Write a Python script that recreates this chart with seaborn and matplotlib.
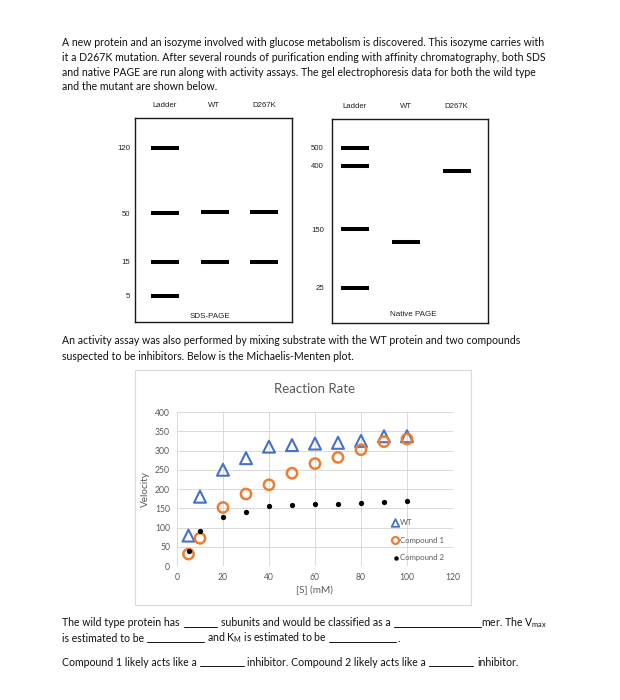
import numpy as np
import pandas as pd
import matplotlib
matplotlib.use("Agg")
import matplotlib.pyplot as plt
from matplotlib.patches import Rectangle
from matplotlib.lines import Line2D
import seaborn as sns

# ---------------- data ----------------
lanes = ["Ladder", "WT", "D267K"]

sds_ladder_labels = ["120", "50", "15", "5"]
sds_ladder_pos = [30, 95, 144, 178]      # migration distance from top of gel (px)
sds_wt_pos = [94, 144]
sds_mut_pos = [94, 144]

native_ladder_labels = ["500", "400", "150", "25"]
native_ladder_pos = [29, 47, 110, 169]
native_wt_pos = [123]
native_mut_pos = [52]

substrate_mM = [5, 10, 20, 30, 40, 50, 60, 70, 80, 90, 100]
v_wt = [79, 180, 250, 280, 310, 314, 318, 320, 325, 337, 337]
v_c1 = [31, 72, 152, 187, 211, 241, 266, 282, 302, 323, 330]
v_c2 = [39, 90, 126, 141, 156, 158, 160, 161, 163, 167, 168]

x_ticks = [0, 20, 40, 60, 80, 100, 120]
y_ticks = [0, 50, 100, 150, 200, 250, 300, 350, 400]

# ---------------- figure ----------------
sns.set_theme(style="white")
plt.rcParams["font.family"] = ["Lato", "DejaVu Sans"]
plt.rcParams["mathtext.fontset"] = "custom"
plt.rcParams["mathtext.rm"] = "Lato"

W, H = 620, 700
fig = plt.figure(figsize=(6.2, 7.0), dpi=100)
fig.patch.set_facecolor("white")


def ax_px(x0, y0, x1, y1):
    return fig.add_axes([x0 / W, 1 - y1 / H, (x1 - x0) / W, (y1 - y0) / H])


def ftext(x, y, s, **kw):
    kw.setdefault("fontsize", 7.6)
    kw.setdefault("va", "center")
    kw.setdefault("color", "#111111")
    return fig.text(x / W, 1 - y / H, s, **kw)


def blank(x0, x1, y):
    fig.add_artist(Line2D([x0 / W, x1 / W], [1 - y / H, 1 - y / H],
                          color="#111111", lw=0.7))


# ---------------- paragraph text ----------------
para1 = [
    "A new protein and an isozyme involved with glucose metabolism is discovered. This isozyme carries with",
    "it a D267K mutation. After several rounds of purification ending with affinity chromatography, both SDS",
    "and native PAGE are run along with activity assays. The gel electrophoresis data for both the wild type",
    "and the mutant are shown below.",
]
for i, line in enumerate(para1):
    ftext(62, 43 + i * 14.6, line)

para2 = [
    "An activity assay was also performed by mixing substrate with the WT protein and two compounds",
    "suspected to be inhibitors. Below is the Michaelis-Menten plot.",
]
for i, line in enumerate(para2):
    ftext(62, 341 + i * 16, line)


# ---------------- gels ----------------
GEL_FONT = ["Liberation Sans"]


def draw_gel(box, lane0, spacing, ladder_labels, ladder_pos, wt_pos, mut_pos,
             title, title_x, title_y, label_pad):
    x0, y0, x1, y1 = box
    ax = ax_px(x0, y0, x1, y1)
    rows = ([(0, p) for p in ladder_pos] + [(1, p) for p in wt_pos]
            + [(2, p) for p in mut_pos])
    df = pd.DataFrame(rows, columns=["lane", "pos"])
    sns.scatterplot(data=df, x="lane", y="pos", marker="_", s=20.5 ** 2,
                    linewidth=2.9, color="black", ax=ax, legend=False)
    w = x1 - x0
    ax.set_xlim(-lane0 / spacing, (w - lane0) / spacing)
    ax.set_ylim(y1 - y0, 0)
    ax.set_xticks([0, 1, 2])
    ax.set_xticklabels(lanes, fontsize=5.6, family=GEL_FONT, color="#222222")
    ax.xaxis.tick_top()
    ax.set_yticks(ladder_pos)
    ax.set_yticklabels(ladder_labels, fontsize=5.6, family=GEL_FONT, color="#222222")
    ax.tick_params(axis="x", length=0, pad=6.5)
    ax.tick_params(axis="y", length=0, pad=label_pad)
    ax.set_xlabel("")
    ax.set_ylabel("")
    for sp in ax.spines.values():
        sp.set_visible(True)
        sp.set_color("#1a1a1a")
        sp.set_linewidth(1.0)
    ax.text((title_x - x0) / w, 1 - (title_y - y0) / (y1 - y0), title,
            fontsize=5.8, family=GEL_FONT, color="#222222",
            ha="center", va="center", transform=ax.transAxes)
    return ax


draw_gel((135, 118, 292, 322), 30, 49.5, sds_ladder_labels,
         sds_ladder_pos, sds_wt_pos, sds_mut_pos, "SDS-PAGE", 210, 316, 3.5)
draw_gel((332, 119, 488, 323), 23, 50.75, native_ladder_labels,
         native_ladder_pos, native_wt_pos, native_mut_pos, "Native PAGE", 413, 314, 5.8)

# ---------------- Michaelis-Menten chart ----------------
fig.add_artist(Rectangle((135 / W, 1 - 605 / H), (471 - 135) / W, (605 - 370) / H,
                         transform=fig.transFigure, fill=False,
                         edgecolor="#D9D9D9", lw=0.8))

ax = ax_px(177, 412, 453, 566)
grid_c = "#D9D9D9"
for t in y_ticks:
    ax.axhline(t, color=grid_c, lw=0.7, zorder=0)
for t in x_ticks:
    ax.axvline(t, color=grid_c, lw=0.7, zorder=0)

df_wt = pd.DataFrame({"S": substrate_mM, "v": v_wt})
df_c1 = pd.DataFrame({"S": substrate_mM, "v": v_c1})
df_c2 = pd.DataFrame({"S": substrate_mM, "v": v_c2})

sns.scatterplot(data=df_wt, x="S", y="v", marker="^", s=8.6 ** 2,
                facecolor="none", edgecolor="#4472C4", color="#4472C4",
                linewidth=1.5, ax=ax, label="WT", zorder=3)
sns.scatterplot(data=df_c1, x="S", y="v", marker="o", s=7.4 ** 2,
                facecolor="none", edgecolor="#ED7D31", color="#ED7D31",
                linewidth=1.8, ax=ax, label="Compound 1", zorder=4)
sns.scatterplot(data=df_c2, x="S", y="v", marker="o", s=3.8 ** 2,
                facecolor="black", edgecolor="black", color="black",
                linewidth=0, ax=ax, label="Compound 2", zorder=5)

ax.set_xlim(0, 120)
ax.set_ylim(0, 400)
ax.set_xticks(x_ticks)
ax.set_yticks(y_ticks)
ax.tick_params(axis="both", length=0, labelsize=6.2, labelcolor="#595959")
ax.tick_params(axis="x", pad=5)
ax.tick_params(axis="y", pad=5)
for sp in ax.spines.values():
    sp.set_visible(False)
ax.set_xlabel("[S] (mM)", fontsize=7.2, color="#595959", labelpad=3)
ax.set_ylabel("Velocity", fontsize=7.2, color="#595959", labelpad=4)
ax.set_title("Reaction Rate", fontsize=9.5, color="#595959", pad=14)
ax.set_facecolor("white")

leg = ax.legend(loc="upper left", bbox_to_anchor=((392 - 177) / 276, 1 - (519 - 412) / 154),
                frameon=False, fontsize=5.6, handletextpad=0.1,
                labelspacing=1.35, borderaxespad=0, borderpad=0, handlelength=0.9)
for t in leg.get_texts():
    t.set_color("#595959")
legend_sizes = [5.5 ** 2, 5.0 ** 2, 3.2 ** 2]
legend_widths = [1.3, 1.6, 0]
for h, sz, lw in zip(leg.legend_handles, legend_sizes, legend_widths):
    h.set_sizes([sz])
    h.set_linewidths([lw])

# ---------------- question text ----------------
fs = 7.6
ftext(62, 623, "The wild type protein has", fontsize=fs)
blank(184, 217, 627)
ftext(221, 623, "subunits and would be classified as a", fontsize=fs)
blank(394, 481, 627)
ftext(481, 623, r"mer. The V$_{\mathregular{max}}$", fontsize=fs)

ftext(62, 638, "is estimated to be", fontsize=fs)
blank(147, 204, 642)
ftext(207, 638, r"and K$_{\mathregular{M}}$ is estimated to be", fontsize=fs)
blank(329, 396, 642)
ftext(397, 638, ".", fontsize=fs)

ftext(62, 662, "Compound 1 likely acts like a", fontsize=fs)
blank(200, 244, 666)
ftext(247, 662, "inhibitor. Compound 2 likely acts like a", fontsize=fs)
blank(429, 473, 666)
ftext(477, 662, "inhibitor.", fontsize=fs)

fig.savefig("out.png", dpi=100, facecolor="white")
